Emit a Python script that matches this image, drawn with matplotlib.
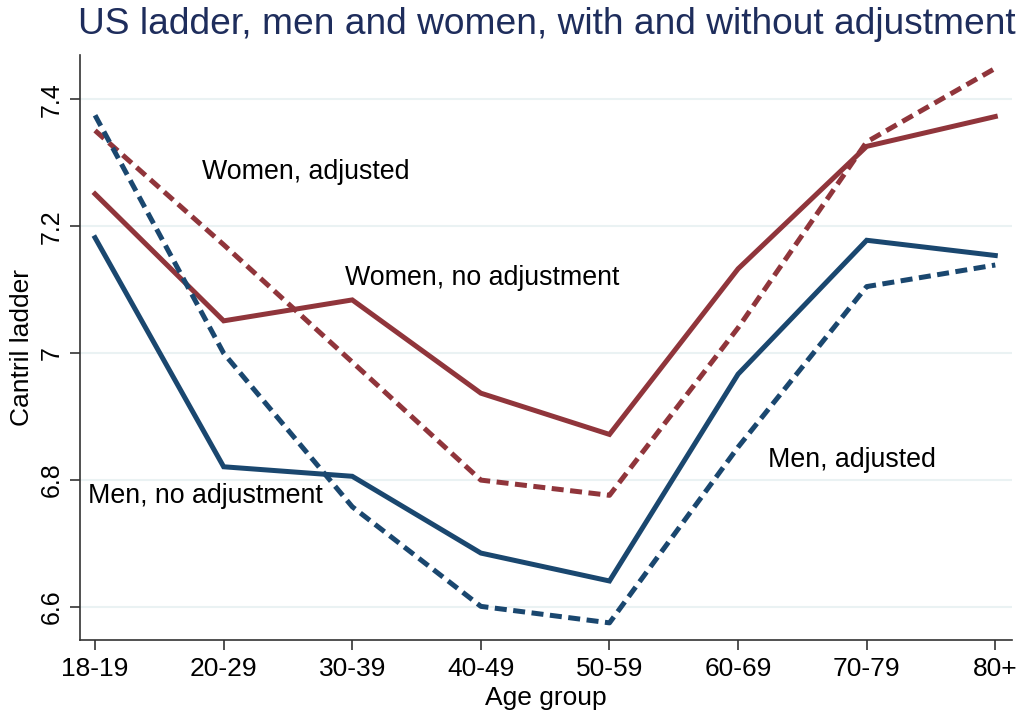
import matplotlib
matplotlib.use("Agg")
import matplotlib.pyplot as plt

age_groups = ["18-19", "20-29", "30-39", "40-49", "50-59", "60-69", "70-79", "80+"]
women_no_adj = [7.251, 7.051, 7.084, 6.937, 6.872, 7.133, 7.326, 7.373]
women_adj = [7.351, 7.171, 6.986, 6.800, 6.776, 7.040, 7.333, 7.449]
men_no_adj = [7.182, 6.821, 6.806, 6.685, 6.641, 6.967, 7.178, 7.154]
men_adj = [7.375, 7.000, 6.758, 6.601, 6.575, 6.852, 7.105, 7.139]
y_ticks = [6.6, 6.8, 7.0, 7.2, 7.4]
y_tick_labels = ["6.6", "6.8", "7", "7.2", "7.4"]

navy = "#1a476f"
maroon = "#90353b"

plt.rcParams["font.family"] = ["Liberation Sans", "DejaVu Sans"]

fig = plt.figure(figsize=(10.27, 7.17), dpi=100)
ax = fig.add_axes([0.0779, 0.1074, 0.9075, 0.8159])

x = list(range(len(age_groups)))
lw = 3.6
ax.plot(x, women_no_adj, color=maroon, lw=lw, solid_joinstyle="miter", zorder=3)
ax.plot(x, women_adj, color=maroon, lw=lw, dashes=(2.4, 1.3), dash_capstyle="butt", zorder=3)
ax.plot(x, men_no_adj, color=navy, lw=lw, solid_joinstyle="miter", zorder=3)
ax.plot(x, men_adj, color=navy, lw=lw, dashes=(2.4, 1.3), dash_capstyle="butt", zorder=3)

ax.set_xlim(-0.117, 7.13)
ax.set_ylim(6.548, 7.47)
ax.set_xticks(x)
ax.set_xticklabels(age_groups, fontsize=19)
ax.set_yticks(y_ticks)
ax.set_yticklabels(y_tick_labels, fontsize=18, rotation=90, va="center")

for yv in y_ticks:
    ax.axhline(yv, color="#eaf2f3", lw=1.5, zorder=1)

for s in ["top", "right"]:
    ax.spines[s].set_visible(False)
for s in ["left", "bottom"]:
    ax.spines[s].set_color("#333333")
    ax.spines[s].set_linewidth(1.2)
ax.tick_params(axis="both", direction="out", length=7, width=1.2, color="#333333")
ax.tick_params(axis="y", pad=5)
ax.tick_params(axis="x", pad=5)

ax.set_xlabel("Age group", fontsize=19, labelpad=4)
ax.set_ylabel("Cantril ladder", fontsize=19, labelpad=4)

fig.text(78 / 1027, 1 - 24 / 717, "US ladder, men and women, with and without adjustment",
         fontsize=26.7, color="#1e2d5c", ha="left", va="center")

def lab(px, py, s):
    xd, yd = ax.transData.inverted().transform((px, 717 - py))
    ax.text(xd, yd, s, fontsize=19.3, ha="left", va="center", color="black", zorder=4)

fig.canvas.draw()
lab(202, 172, "Women, adjusted")
lab(345, 278, "Women, no adjustment")
lab(88, 496, "Men, no adjustment")
lab(768, 460, "Men, adjusted")

fig.savefig("out.png", dpi=100, facecolor="white")
